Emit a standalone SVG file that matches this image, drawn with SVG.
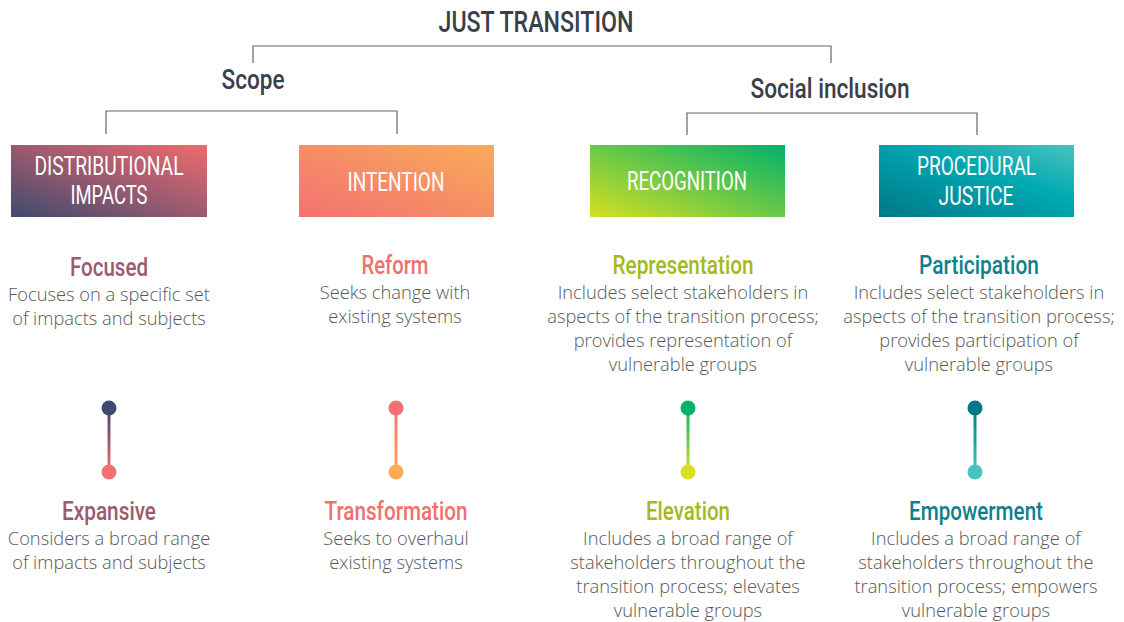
<svg xmlns="http://www.w3.org/2000/svg" width="1124" height="622" viewBox="0 0 1124 622">
  <defs>
    <linearGradient id="gDist" x1="0" y1="1" x2="1" y2="0">
      <stop offset="0" stop-color="#3e4b6d"/>
      <stop offset="0.5" stop-color="#9b5a70"/>
      <stop offset="1" stop-color="#ee6b70"/>
    </linearGradient>
    <linearGradient id="gInt" x1="0" y1="1" x2="1" y2="0">
      <stop offset="0" stop-color="#f37173"/>
      <stop offset="1" stop-color="#f9ab58"/>
    </linearGradient>
    <linearGradient id="gRec" x1="0" y1="1" x2="1" y2="0">
      <stop offset="0" stop-color="#d5df22"/>
      <stop offset="1" stop-color="#00b26b"/>
    </linearGradient>
    <linearGradient id="gProc" x1="0" y1="1" x2="1" y2="0">
      <stop offset="0" stop-color="#007888"/>
      <stop offset="0.6" stop-color="#00a9b1"/>
      <stop offset="1" stop-color="#4cc2bf"/>
    </linearGradient>
    <linearGradient id="sDist" gradientUnits="userSpaceOnUse" x1="0" y1="408" x2="0" y2="472">
      <stop offset="0" stop-color="#404a6e"/>
      <stop offset="1" stop-color="#f37173"/>
    </linearGradient>
    <linearGradient id="sInt" gradientUnits="userSpaceOnUse" x1="0" y1="408" x2="0" y2="472">
      <stop offset="0" stop-color="#f37173"/>
      <stop offset="1" stop-color="#f9ab58"/>
    </linearGradient>
    <linearGradient id="sRec" gradientUnits="userSpaceOnUse" x1="0" y1="408" x2="0" y2="472">
      <stop offset="0" stop-color="#00b26e"/>
      <stop offset="1" stop-color="#d8e021"/>
    </linearGradient>
    <linearGradient id="sProc" gradientUnits="userSpaceOnUse" x1="0" y1="408" x2="0" y2="472">
      <stop offset="0" stop-color="#00788a"/>
      <stop offset="1" stop-color="#48c4be"/>
    </linearGradient>
  </defs>
  <style>
    .cond { font-family: "Roboto", "Liberation Sans", sans-serif; text-anchor: middle; }
    .title { font-size: 30px; font-weight: 500; fill: #3a4049; }
    .sub { font-size: 27px; font-weight: 500; fill: #3a4049; }
    .box { font-size: 26px; fill: #ffffff; }
    .head { font-size: 25px; font-weight: 500; }
    .body { font-family: "Open Sans", "Noto Sans", sans-serif; font-weight: 300; font-size: 18.3px; fill: #585858; text-anchor: middle; }
    .br { fill: none; stroke: #666666; stroke-width: 1.2; }
    .mauve { fill: #9c5a6e; }
    .coral { fill: #f07070; }
    .olive { fill: #a5b81e; }
    .teal { fill: #0f7f8c; }
  </style>

  <rect width="1124" height="622" fill="#ffffff"/>

  <!-- hierarchy brackets -->
  <g id="connectors">
    <path class="br" d="M253 63 V46 H831 V63"/>
    <path class="br" d="M106 134 V111 H397 V134"/>
    <path class="br" d="M687 135 V113 H977 V135"/>
  </g>

  <g id="title">
    <text class="cond title" x="536" y="32" textLength="195" lengthAdjust="spacingAndGlyphs">JUST TRANSITION</text>
  </g>
  <g id="scope">
    <text class="cond sub" x="253" y="89" textLength="63" lengthAdjust="spacingAndGlyphs">Scope</text>
  </g>
  <g id="social-inclusion">
    <text class="cond sub" x="830" y="98" textLength="159" lengthAdjust="spacingAndGlyphs">Social inclusion</text>
  </g>

  <!-- category boxes -->
  <g id="distributional">
    <rect x="11" y="145" width="196" height="72" fill="url(#gDist)"/>
    <text class="cond box" x="109" y="175" textLength="149" lengthAdjust="spacingAndGlyphs">DISTRIBUTIONAL</text>
    <text class="cond box" x="109" y="204" textLength="77" lengthAdjust="spacingAndGlyphs">IMPACTS</text>
  </g>
  <g id="intention">
    <rect x="299" y="145" width="195" height="72" fill="url(#gInt)"/>
    <text class="cond box" x="396" y="191" textLength="97" lengthAdjust="spacingAndGlyphs">INTENTION</text>
  </g>
  <g id="recognition">
    <rect x="590" y="145" width="195" height="72" fill="url(#gRec)"/>
    <text class="cond box" x="687" y="190" textLength="120" lengthAdjust="spacingAndGlyphs">RECOGNITION</text>
  </g>
  <g id="procedural">
    <rect x="879" y="145" width="195" height="72" fill="url(#gProc)"/>
    <text class="cond box" x="976.5" y="175" textLength="119" lengthAdjust="spacingAndGlyphs">PROCEDURAL</text>
    <text class="cond box" x="976" y="205" textLength="75" lengthAdjust="spacingAndGlyphs">JUSTICE</text>
  </g>

  <!-- upper descriptions -->
  <g id="focused">
    <text class="cond head mauve" x="109" y="276" textLength="78" lengthAdjust="spacingAndGlyphs">Focused</text>
    <text class="body" x="109" y="301">Focuses on a specific set</text>
    <text class="body" x="109" y="325">of impacts and subjects</text>
  </g>
  <g id="reform">
    <text class="cond head coral" x="395" y="274" textLength="67" lengthAdjust="spacingAndGlyphs">Reform</text>
    <text class="body" x="395" y="299">Seeks change with</text>
    <text class="body" x="395" y="323">existing systems</text>
  </g>
  <g id="representation">
    <text class="cond head olive" x="683" y="274" textLength="141" lengthAdjust="spacingAndGlyphs">Representation</text>
    <text class="body" x="683" y="299">Includes select stakeholders in</text>
    <text class="body" x="683" y="323">aspects of the transition process;</text>
    <text class="body" x="683" y="347">provides representation of</text>
    <text class="body" x="683" y="371">vulnerable groups</text>
  </g>
  <g id="participation">
    <text class="cond head teal" x="979" y="274" textLength="120" lengthAdjust="spacingAndGlyphs">Participation</text>
    <text class="body" x="979" y="299">Includes select stakeholders in</text>
    <text class="body" x="979" y="323">aspects of the transition process;</text>
    <text class="body" x="979" y="347">provides participation of</text>
    <text class="body" x="979" y="371">vulnerable groups</text>
  </g>

  <!-- spectrum sliders -->
  <g id="slider-distributional">
    <line x1="109" y1="408" x2="109" y2="472" stroke="url(#sDist)" stroke-width="3"/>
    <circle cx="109" cy="408" r="7.5" fill="#404a6e"/>
    <circle cx="109" cy="472" r="7.5" fill="#f37173"/>
  </g>
  <g id="slider-intention">
    <line x1="396" y1="408" x2="396" y2="472" stroke="url(#sInt)" stroke-width="3"/>
    <circle cx="396" cy="408" r="7.5" fill="#f37173"/>
    <circle cx="396" cy="472" r="7.5" fill="#f9ab58"/>
  </g>
  <g id="slider-recognition">
    <line x1="688" y1="408" x2="688" y2="472" stroke="url(#sRec)" stroke-width="3"/>
    <circle cx="688" cy="408" r="7.5" fill="#00b26e"/>
    <circle cx="688" cy="472" r="7.5" fill="#d8e021"/>
  </g>
  <g id="slider-procedural">
    <line x1="975" y1="408" x2="975" y2="472" stroke="url(#sProc)" stroke-width="3"/>
    <circle cx="975" cy="408" r="7.5" fill="#00788a"/>
    <circle cx="975" cy="472" r="7.5" fill="#48c4be"/>
  </g>

  <!-- lower descriptions -->
  <g id="expansive">
    <text class="cond head mauve" x="109" y="520" textLength="94" lengthAdjust="spacingAndGlyphs">Expansive</text>
    <text class="body" x="109" y="545">Considers a broad range</text>
    <text class="body" x="109" y="569">of impacts and subjects</text>
  </g>
  <g id="transformation">
    <text class="cond head coral" x="396" y="520" textLength="143" lengthAdjust="spacingAndGlyphs">Transformation</text>
    <text class="body" x="396" y="545">Seeks to overhaul</text>
    <text class="body" x="396" y="569">existing systems</text>
  </g>
  <g id="elevation">
    <text class="cond head olive" x="688" y="520" textLength="84" lengthAdjust="spacingAndGlyphs">Elevation</text>
    <text class="body" x="688" y="545">Includes a broad range of</text>
    <text class="body" x="688" y="569">stakeholders throughout the</text>
    <text class="body" x="688" y="593">transition process; elevates</text>
    <text class="body" x="688" y="617">vulnerable groups</text>
  </g>
  <g id="empowerment">
    <text class="cond head teal" x="976" y="520" textLength="134" lengthAdjust="spacingAndGlyphs">Empowerment</text>
    <text class="body" x="976" y="545">Includes a broad range of</text>
    <text class="body" x="976" y="569">stakeholders throughout the</text>
    <text class="body" x="976" y="593">transition process; empowers</text>
    <text class="body" x="976" y="617">vulnerable groups</text>
  </g>
</svg>
